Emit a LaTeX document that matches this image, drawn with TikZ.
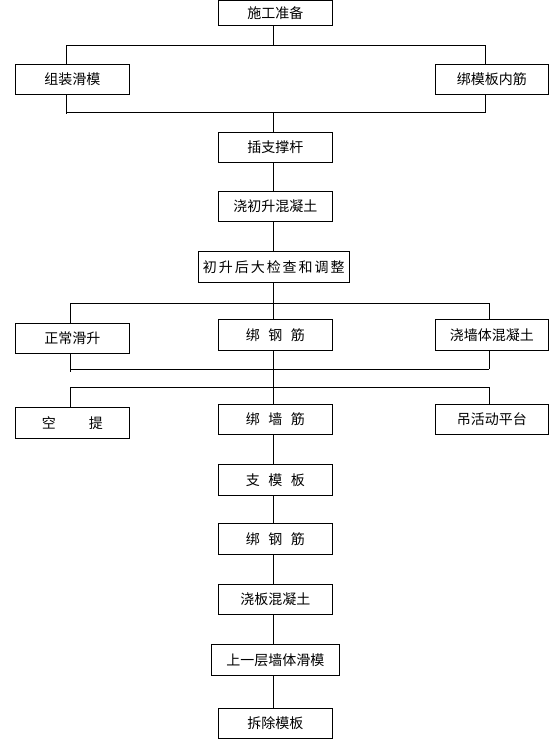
\documentclass[tikz,border=0pt]{standalone}
\usepackage{fontspec}
\newfontfamily\cjk{Noto Sans CJK SC}
\newfontfamily\cjkwide[LetterSpace=14]{Noto Sans CJK SC}
\begin{document}
\begin{tikzpicture}[x=1pt,y=-1pt,line width=0.9pt,
  box/.style={draw,rectangle,inner sep=0pt,minimum width=114pt,minimum height=30pt,font=\cjk\fontsize{14}{14}\selectfont},
  link/.style={draw,line width=0.9pt}]
\useasboundingbox (0,0) rectangle (555,742);
% nodes
\node[box,minimum height=25pt] (n1) at (275.3,12.9) {施工准备};
\node[box] (a) at (72.3,79.3) {组装滑模};
\node[box,minimum width=113pt] (b) at (491.8,79.3) {绑模板内筋};
\node[box] (n2) at (275.3,147.3) {插支撑杆};
\node[box] (n3) at (275.3,206) {浇初升混凝土};
\node[box,minimum width=151pt,minimum height=31pt,font=\cjkwide\fontsize{14}{14}\selectfont] (n4) at (273.8,266.8) {初升后大检查和调整};
\node[box] (c) at (72.3,338.2) {正常滑升};
\node[box,minimum height=31pt] (n5) at (275.3,334.8) {绑\hspace{8.5pt}钢\hspace{8.5pt}筋};
\node[box,minimum width=113pt,minimum height=31pt] (d) at (491.8,334.8) {浇墙体混凝土};
\node[box,minimum height=30.7pt] (e) at (72.3,422.7) {空\hspace{33pt}提};
\node[box] (n6) at (275.3,419.3) {绑\hspace{8.5pt}墙\hspace{8.5pt}筋};
\node[box,minimum width=113pt] (f) at (491.8,419.3) {吊活动平台};
\node[box,minimum height=31pt] (n7) at (275.3,479.8) {支\hspace{8.5pt}模\hspace{8.5pt}板};
\node[box,minimum height=31pt] (n8) at (275.3,538.8) {绑\hspace{8.5pt}钢\hspace{8.5pt}筋};
\node[box] (n9) at (275.3,599.3) {浇板混凝土};
\node[box,minimum width=128pt,minimum height=31pt] (n10) at (275.3,659.8) {上一层墙体滑模};
\node[box,minimum height=30.4pt] (n11) at (275.3,723.5) {拆除模板};
% junction coordinates
\coordinate (sp) at (273.3,0);
\coordinate (j1) at (273.3,45);
\coordinate (j1l) at (66.7,45);
\coordinate (j1r) at (485.3,45);
\coordinate (k1) at (273.3,112.3);
\coordinate (k1l) at (66.7,112.3);
\coordinate (k1r) at (485.3,112.3);
\coordinate (j2) at (273.3,303.3);
\coordinate (j2l) at (70.3,303.3);
\coordinate (j2r) at (489.3,303.3);
\coordinate (k2l) at (70.3,369.3);
\coordinate (k2r) at (489.3,369.3);
\coordinate (j3l) at (70.3,387.3);
\coordinate (j3r) at (489.3,387.3);
% first split
\path[link] (n1.south -| sp) -- (j1);
\path[link] (j1l) -- (j1r);
\path[link] (j1l) -- (j1l |- a.north);
\path[link] (j1r) -- (j1r |- b.north);
\path[link] (a.south -| k1l) -- ([yshift=-1.4pt]k1l);
\path[link] (b.south -| k1r) -- ([yshift=-1pt]k1r);
\path[link] (k1l) -- (k1r);
\path[link] (k1) -- (n2.north -| sp);
% main chain
\path[link] (n2.south -| sp) -- (n3.north -| sp);
\path[link] (n3.south -| sp) -- (n4.north -| sp);
\path[link] (n4.south -| sp) -- (n5.north -| sp);
% second split
\path[link] (j2l) -- (j2r);
\path[link] (j2l) -- (j2l |- c.north);
\path[link] (j2r) -- (j2r |- d.north);
\path[link] (c.south -| k2l) -- ([yshift=-3pt]k2l);
\path[link] (d.south -| k2r) -- (k2r);
\path[link] (k2l) -- (k2r);
\path[link] (n5.south -| sp) -- (n6.north -| sp);
% third split
\path[link] (j3l) -- (j3r);
\path[link] (j3l) -- (j3l |- e.north);
\path[link] (j3r) -- (j3r |- f.north);
% lower chain
\path[link] (n6.south -| sp) -- (n7.north -| sp);
\path[link] (n7.south -| sp) -- (n8.north -| sp);
\path[link] (n8.south -| sp) -- (n9.north -| sp);
\path[link] (n9.south -| sp) -- (n10.north -| sp);
\path[link] (n10.south -| sp) -- (n11.north -| sp);
\end{tikzpicture}
\end{document}
